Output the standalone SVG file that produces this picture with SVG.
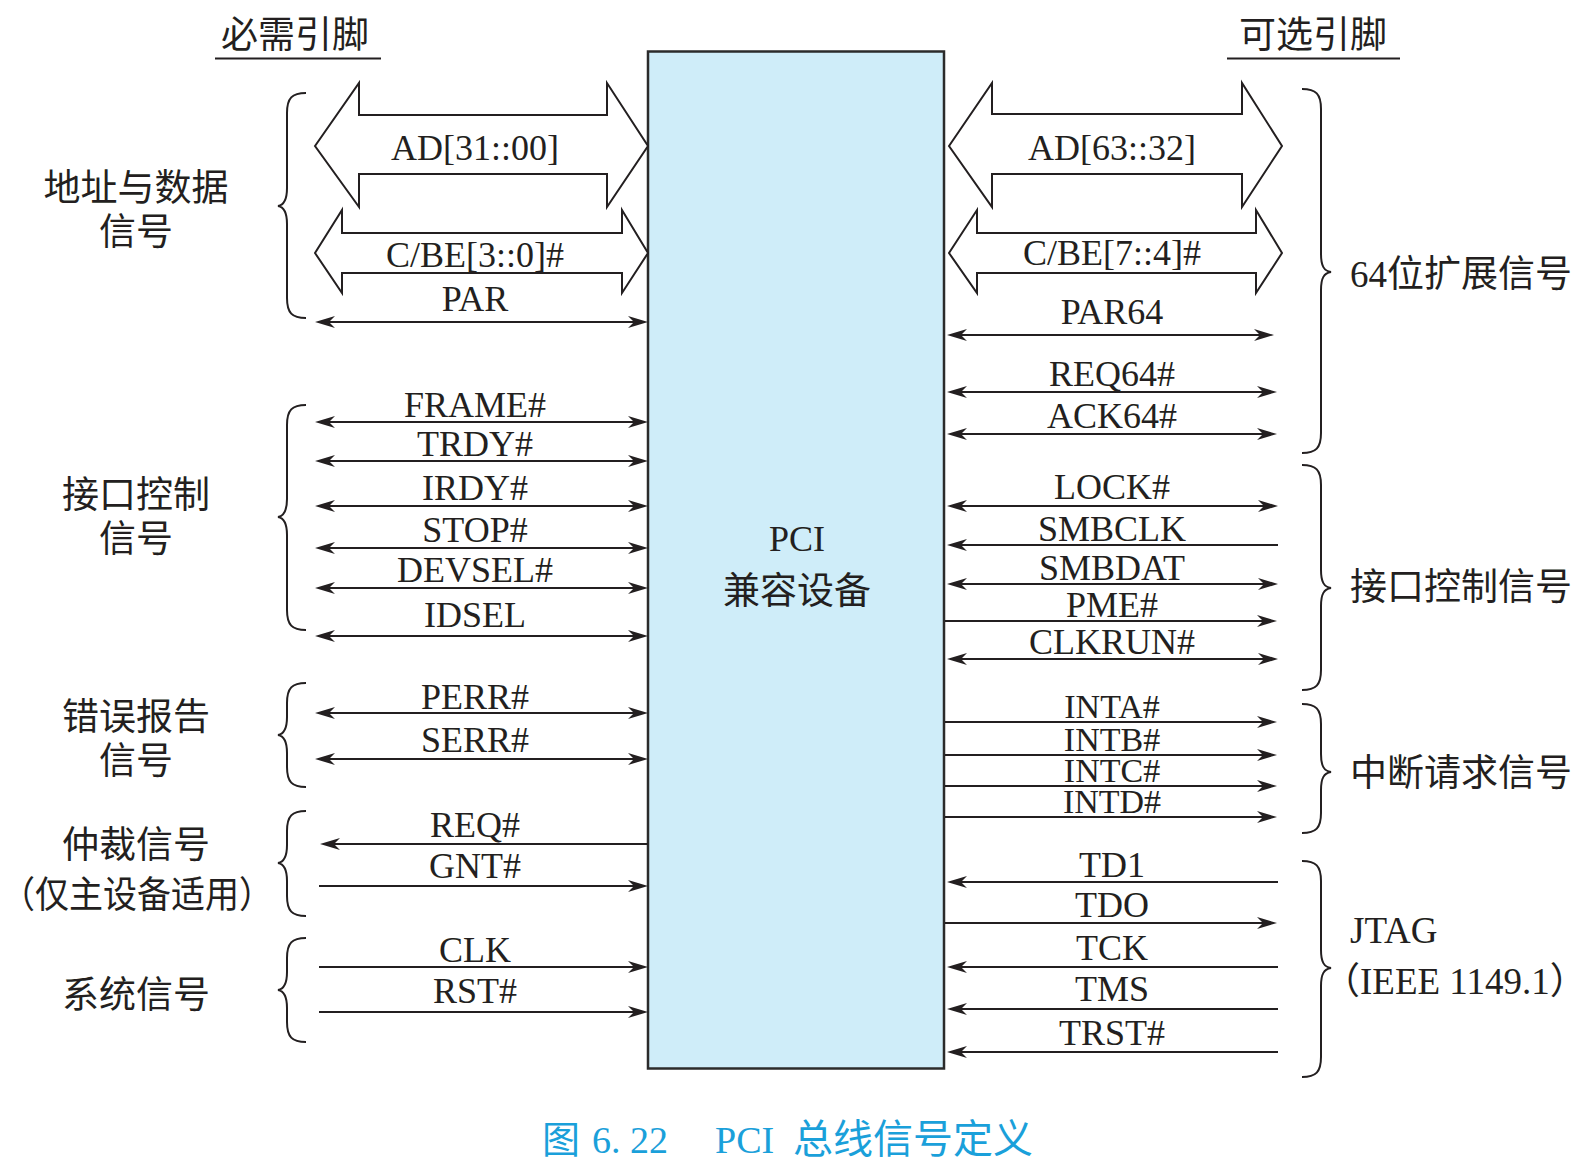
<svg xmlns="http://www.w3.org/2000/svg" width="1584" height="1167" viewBox="0 0 1584 1167">
<style>
.bg{fill:#ffffff}
.sig{font-family:"Liberation Serif","Noto Sans CJK SC",serif;font-size:36px;fill:#231f20;text-anchor:middle}
.sm{font-size:34px}
.cjk{font-family:"Liberation Serif","Noto Sans CJK SC",serif;font-size:37px;fill:#231f20}
.mid{text-anchor:middle}
.ln{stroke:#231f20;stroke-width:2;fill:none}
.bus{stroke:#231f20;stroke-width:2;fill:#ffffff;stroke-linejoin:miter}
.brace{stroke:#231f20;stroke-width:2;fill:none}
.box{fill:#cfedf9;stroke:#2b2b2b;stroke-width:2.5}
.cap{font-family:"Liberation Serif","Noto Sans CJK SC",serif;font-size:38px;fill:#1aa0da}
</style>
<defs>
<marker id="ah" viewBox="-21 -7 22 14" refX="-10" refY="0" markerWidth="22" markerHeight="14" markerUnits="userSpaceOnUse" orient="auto-start-reverse">
<path d="M0,0 L-20,-6 L-14,0 L-20,6 Z" fill="#231f20"/>
</marker>
</defs>
<rect class="bg" x="0" y="0" width="1584" height="1167"/>

<g id="headers">
<text class="cjk" x="221" y="48" font-size="38">必需引脚</text>
<line class="ln" x1="215" y1="58.5" x2="381" y2="58.5"/>
<text class="cjk" x="1239" y="48" font-size="38">可选引脚</text>
<line class="ln" x1="1227" y1="58.5" x2="1400" y2="58.5"/>
</g>

<g id="pci-device">
<rect class="box" x="648" y="51.5" width="296" height="1017"/>
<text class="sig" x="797" y="551">PCI</text>
<text class="cjk mid" x="797" y="604">兼容设备</text>
</g>

<g id="buses">
<g id="bus-ad31">
<polygon class="bus" points="315,146 359,83 359,115 607,115 607,83 648,146 607,207 607,174 359,174 359,207"/>
<text class="sig" x="475" y="160">AD[31::00]</text>
</g>
<g id="bus-cbe30">
<polygon class="bus" points="315,253 342,210 342,233 622,233 622,210 648,253 622,293 622,273 342,273 342,293"/>
<text class="sig" x="475" y="267">C/BE[3::0]#</text>
</g>
<g id="bus-ad63">
<polygon class="bus" points="949,146 992,83 992,114 1242,114 1242,83 1282,146 1242,207 1242,174 992,174 992,207"/>
<text class="sig" x="1112" y="160">AD[63::32]</text>
</g>
<g id="bus-cbe74">
<polygon class="bus" points="949,253 977,210 977,233 1256,233 1256,210 1282,253 1256,293 1256,273 977,273 977,293"/>
<text class="sig" x="1112" y="265">C/BE[7::4]#</text>
</g>
</g>

<g id="connectors">
<line class="ln" x1="325" y1="322" x2="638" y2="322" marker-start="url(#ah)" marker-end="url(#ah)"/>
<line class="ln" x1="325" y1="422" x2="638" y2="422" marker-start="url(#ah)" marker-end="url(#ah)"/>
<line class="ln" x1="325" y1="461" x2="638" y2="461" marker-start="url(#ah)" marker-end="url(#ah)"/>
<line class="ln" x1="325" y1="506" x2="638" y2="506" marker-start="url(#ah)" marker-end="url(#ah)"/>
<line class="ln" x1="325" y1="548" x2="638" y2="548" marker-start="url(#ah)" marker-end="url(#ah)"/>
<line class="ln" x1="325" y1="588" x2="638" y2="588" marker-start="url(#ah)" marker-end="url(#ah)"/>
<line class="ln" x1="325" y1="636" x2="638" y2="636" marker-start="url(#ah)" marker-end="url(#ah)"/>
<line class="ln" x1="325" y1="713" x2="638" y2="713" marker-start="url(#ah)" marker-end="url(#ah)"/>
<line class="ln" x1="325" y1="759" x2="638" y2="759" marker-start="url(#ah)" marker-end="url(#ah)"/>
<line class="ln" x1="648" y1="844" x2="330" y2="844" marker-end="url(#ah)"/>
<line class="ln" x1="319" y1="886" x2="638" y2="886" marker-end="url(#ah)"/>
<line class="ln" x1="319" y1="967" x2="638" y2="967" marker-end="url(#ah)"/>
<line class="ln" x1="319" y1="1012" x2="638" y2="1012" marker-end="url(#ah)"/>

<line class="ln" x1="957" y1="335" x2="1264" y2="335" marker-start="url(#ah)" marker-end="url(#ah)"/>
<line class="ln" x1="957" y1="392" x2="1267" y2="392" marker-start="url(#ah)" marker-end="url(#ah)"/>
<line class="ln" x1="957" y1="434" x2="1267" y2="434" marker-start="url(#ah)" marker-end="url(#ah)"/>
<line class="ln" x1="957" y1="506" x2="1268" y2="506" marker-start="url(#ah)" marker-end="url(#ah)"/>
<line class="ln" x1="1278" y1="545" x2="957" y2="545" marker-end="url(#ah)"/>
<line class="ln" x1="957" y1="584" x2="1268" y2="584" marker-start="url(#ah)" marker-end="url(#ah)"/>
<line class="ln" x1="945" y1="621" x2="1267" y2="621" marker-end="url(#ah)"/>
<line class="ln" x1="957" y1="659" x2="1268" y2="659" marker-start="url(#ah)" marker-end="url(#ah)"/>
<line class="ln" x1="945" y1="722" x2="1267" y2="722" marker-end="url(#ah)"/>
<line class="ln" x1="945" y1="755" x2="1267" y2="755" marker-end="url(#ah)"/>
<line class="ln" x1="945" y1="786" x2="1267" y2="786" marker-end="url(#ah)"/>
<line class="ln" x1="945" y1="817" x2="1267" y2="817" marker-end="url(#ah)"/>
<line class="ln" x1="1278" y1="882" x2="957" y2="882" marker-end="url(#ah)"/>
<line class="ln" x1="945" y1="923" x2="1267" y2="923" marker-end="url(#ah)"/>
<line class="ln" x1="1278" y1="967" x2="957" y2="967" marker-end="url(#ah)"/>
<line class="ln" x1="1278" y1="1009" x2="957" y2="1009" marker-end="url(#ah)"/>
<line class="ln" x1="1278" y1="1052" x2="957" y2="1052" marker-end="url(#ah)"/>
</g>

<g id="signal-labels">
<text class="sig" x="475" y="311">PAR</text>
<text class="sig" x="475" y="417">FRAME#</text>
<text class="sig" x="475" y="456">TRDY#</text>
<text class="sig" x="475" y="500">IRDY#</text>
<text class="sig" x="475" y="542">STOP#</text>
<text class="sig" x="475" y="582">DEVSEL#</text>
<text class="sig" x="475" y="627">IDSEL</text>
<text class="sig" x="475" y="709">PERR#</text>
<text class="sig" x="475" y="752">SERR#</text>
<text class="sig" x="475" y="837">REQ#</text>
<text class="sig" x="475" y="878">GNT#</text>
<text class="sig" x="475" y="962">CLK</text>
<text class="sig" x="475" y="1003">RST#</text>

<text class="sig" x="1112" y="324">PAR64</text>
<text class="sig" x="1112" y="386">REQ64#</text>
<text class="sig" x="1112" y="428">ACK64#</text>
<text class="sig" x="1112" y="499">LOCK#</text>
<text class="sig" x="1112" y="541">SMBCLK</text>
<text class="sig" x="1112" y="580">SMBDAT</text>
<text class="sig" x="1112" y="617">PME#</text>
<text class="sig" x="1112" y="654">CLKRUN#</text>
<text class="sig sm" x="1112" y="718">INTA#</text>
<text class="sig sm" x="1112" y="751">INTB#</text>
<text class="sig sm" x="1112" y="782">INTC#</text>
<text class="sig sm" x="1112" y="813">INTD#</text>
<text class="sig" x="1112" y="877">TD1</text>
<text class="sig" x="1112" y="917">TDO</text>
<text class="sig" x="1112" y="960">TCK</text>
<text class="sig" x="1112" y="1001">TMS</text>
<text class="sig" x="1112" y="1045">TRST#</text>
</g>

<g id="left-groups">
<g id="grp-addr">
<path class="brace" d="M306,93 C292,93 287,98 287,113 L287,188 C287,200 284,205 278,206 C284,207 287,212 287,224 L287,298 C287,313 292,318 306,318"/>
<text class="cjk mid" x="136" y="201">地址与数据</text>
<text class="cjk mid" x="136" y="245">信号</text>
</g>
<g id="grp-ifc">
<path class="brace" d="M306,405 C292,405 287,410 287,425 L287,499 C287,511 284,516 278,517 C284,518 287,523 287,535 L287,610 C287,625 292,630 306,630"/>
<text class="cjk mid" x="136" y="508">接口控制</text>
<text class="cjk mid" x="136" y="552">信号</text>
</g>
<g id="grp-err">
<path class="brace" d="M306,683 C292,683 287,688 287,703 L287,717 C287,729 284,734 278,735 C284,736 287,741 287,753 L287,767 C287,782 292,787 306,787"/>
<text class="cjk mid" x="136" y="730">错误报告</text>
<text class="cjk mid" x="136" y="774">信号</text>
</g>
<g id="grp-arb">
<path class="brace" d="M306,811 C292,811 287,816 287,831 L287,845 C287,857 284,862 278,863 C284,864 287,869 287,881 L287,896 C287,911 292,916 306,916"/>
<text class="cjk mid" x="136" y="858">仲裁信号</text>
<text class="cjk" x="1" y="908" font-size="36" textLength="272" lengthAdjust="spacingAndGlyphs">（仅主设备适用）</text>
</g>
<g id="grp-sys">
<path class="brace" d="M306,938 C292,938 287,943 287,958 L287,972 C287,984 284,989 278,990 C284,991 287,996 287,1008 L287,1022 C287,1037 292,1042 306,1042"/>
<text class="cjk mid" x="136" y="1008">系统信号</text>
</g>
</g>

<g id="right-groups">
<g id="grp-64">
<path class="brace" d="M1302,89 C1316,89 1321,94 1321,109 L1321,254 C1321,266 1324,271 1331,272 C1324,273 1321,278 1321,290 L1321,433 C1321,448 1316,453 1302,453"/>
<text class="cjk" x="1350" y="287">64位扩展信号</text>
</g>
<g id="grp-ifc2">
<path class="brace" d="M1302,465 C1316,465 1321,470 1321,485 L1321,570 C1321,582 1324,587 1331,588 C1324,589 1321,594 1321,606 L1321,670 C1321,685 1316,690 1302,690"/>
<text class="cjk" x="1350" y="600">接口控制信号</text>
</g>
<g id="grp-int">
<path class="brace" d="M1302,704 C1316,704 1321,709 1321,724 L1321,754 C1321,766 1324,771 1331,772 C1324,773 1321,778 1321,790 L1321,813 C1321,828 1316,833 1302,833"/>
<text class="cjk" x="1350" y="786">中断请求信号</text>
</g>
<g id="grp-jtag">
<path class="brace" d="M1302,861 C1316,861 1321,866 1321,881 L1321,950 C1321,962 1324,967 1331,968 C1324,969 1321,974 1321,986 L1321,1057 C1321,1072 1316,1077 1302,1077"/>
<text class="cjk" x="1350" y="943">JTAG</text>
<text class="cjk" x="1323" y="994" font-size="34">（IEEE 1149.1）</text>
</g>
</g>

<g id="caption">
<text class="cap" y="1153"><tspan x="542">图</tspan><tspan x="592">6. 22</tspan><tspan x="715">PCI</tspan><tspan x="793" font-size="40">总线信号定义</tspan></text>
</g>
</svg>
